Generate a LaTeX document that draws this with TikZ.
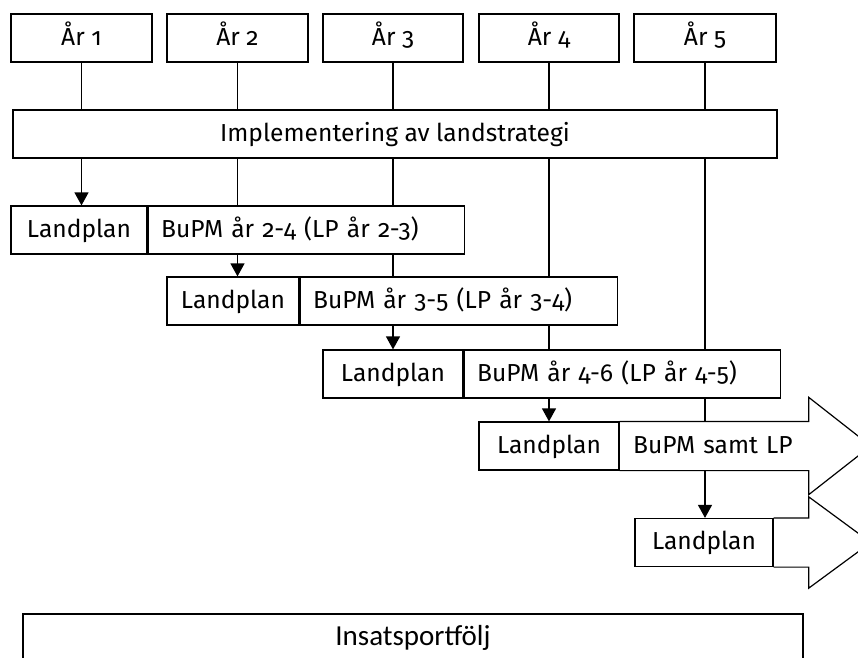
\documentclass[tikz,border=0pt]{standalone}
\usepackage{fontspec}
\setmainfont{Fira Sans}[Numbers=OldStyle]
\newfontfamily\insfont{Carlito}
\usetikzlibrary{arrows.meta,calc}
\begin{document}
\begin{tikzpicture}[x=1bp,y=-1bp,
  font=\fontsize{24.6bp}{29bp}\selectfont,
  line width=1.2bp,
  box/.style={draw, rectangle, inner sep=0pt, minimum height=48bp,
              text height=19.6bp, text depth=4.9bp},
  bubox/.style={box, inner xsep=13bp, align=left},
  arr/.style={-{Triangle[width=14bp,length=13bp]}}]
\useasboundingbox (0,0) rectangle (858,658);

% year boxes
\node[box, minimum width=141bp] (y1) at (81.5,38) {År 1};
\node[box, minimum width=141bp] (y2) at (237.5,38) {År 2};
\node[box, minimum width=140bp] (y3) at (393,38) {År 3};
\node[box, minimum width=140bp] (y4) at (549,38) {År 4};
\node[box, minimum width=142bp] (y5) at (705,38) {År 5};

\node[box, minimum width=764bp] (impl) at (395,134) {Implementering av landstrategi};

% row 1
\node[box, minimum width=136bp] (lp1) at (79,230) {Landplan};
\node[bubox, text width=290bp, anchor=west] (bu1) at (lp1.east) {BuPM år 2-4 (LP år 2-3)};
% row 2
\node[box, minimum width=132bp] (lp2) at (233,301) {Landplan};
\node[bubox, text width=291bp, anchor=west] (bu2) at (lp2.east) {BuPM år 3-5 (LP år 3-4)};
% row 3
\node[box, minimum width=140bp] (lp3) at (393,374) {Landplan};
\node[bubox, text width=290bp, anchor=west] (bu3) at (lp3.east) {BuPM år 4-6 (LP år 4-5)};
% row 4
\node[box, minimum width=140bp] (lp4) at (549,446) {Landplan};
\node[bubox, draw=none, text width=162bp, anchor=west] (bu4) at (lp4.east) {BuPM samt LP};
\draw (bu4.north west) -- (bu4.north east) -- ($(bu4.north east)+(0,-24)$)
  -- ($(bu4.east)+(62,0)$) -- ($(bu4.south east)+(0,24)$)
  -- (bu4.south east) -- (bu4.south west);
% row 5
\node[box, minimum width=138bp] (lp5) at (704,542.5) {Landplan};
\node[box, draw=none, minimum width=34bp, anchor=west] (ar5) at (lp5.east) {};
\draw (ar5.north west) -- (ar5.north east) -- ($(ar5.north east)+(0,-21)$)
  -- ($(ar5.east)+(62,0)$) -- ($(ar5.south east)+(0,21)$)
  -- (ar5.south east) -- (ar5.south west);

% bottom box
\node[box, minimum width=780bp, font=\insfont\fontsize{29bp}{33bp}\selectfont] (ins) at (413,638) {Insatsportfölj};

% connectors, column 1
\draw (y1.south) -- (y1.south |- impl.north);
\draw[arr] (impl.south -| y1) -- (lp1.north -| y1);
% column 2
\draw (y2.south) -- (y2.south |- impl.north);
\draw (impl.south -| y2) -- (bu1.north -| y2);
\draw[arr] (bu1.south -| y2) -- (lp2.north -| y2);
% column 3
\draw (y3.south) -- (y3.south |- impl.north);
\draw (impl.south -| y3) -- (bu1.north -| y3);
\draw (bu1.south -| y3) -- (bu2.north -| y3);
\draw[arr] (bu2.south -| y3) -- (lp3.north -| y3);
% column 4
\draw (y4.south) -- (y4.south |- impl.north);
\draw (impl.south -| y4) -- (bu2.north -| y4);
\draw (bu2.south -| y4) -- (bu3.north -| y4);
\draw[arr] (bu3.south -| y4) -- (lp4.north -| y4);
% column 5
\draw (y5.south) -- (y5.south |- impl.north);
\draw (impl.south -| y5) -- (bu3.north -| y5);
\draw (bu3.south -| y5) -- (bu4.north -| y5);
\draw[arr] (bu4.south -| y5) -- (lp5.north -| y5);
\end{tikzpicture}
\end{document}
